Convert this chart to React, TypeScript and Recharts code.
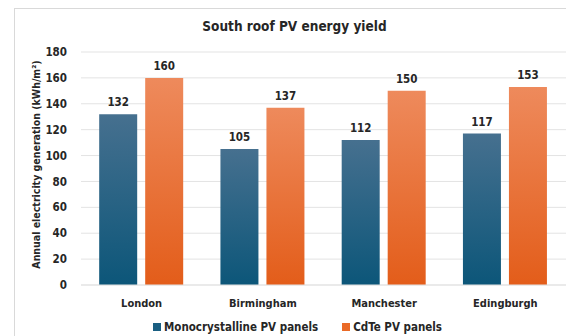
import React from "react";
import { Bar, BarChart, CartesianGrid, LabelList, Legend, XAxis, YAxis } from "recharts";

const cities = ["London", "Birmingham", "Manchester", "Edingburgh"];
const monoYield = [132, 105, 112, 117];
const cdteYield = [160, 137, 150, 153];
const yTicks = [0, 20, 40, 60, 80, 100, 120, 140, 160, 180];

const FONT = "'Liberation Sans Narrow', 'DejaVu Sans Condensed', 'Liberation Sans', sans-serif";
const TEXT = "#262626";

const data = cities.map((city, i) => ({
  city,
  mono: monoYield[i],
  cdte: cdteYield[i],
}));

function LegendBox() {
  const items = [
    { label: "Monocrystalline PV panels", color: "#1a5f82" },
    { label: "CdTe PV panels", color: "#ea6a27" },
  ];
  return (
    <div style={{ display: "flex", justifyContent: "center", gap: 24, paddingLeft: 8, paddingTop: 4, fontFamily: FONT, fontWeight: 700, fontSize: 11.5, color: TEXT }}>
      {items.map((it) => (
        <div key={it.label} style={{ display: "flex", alignItems: "center", gap: 3 }}>
          <span style={{ width: 8, height: 8, background: it.color, display: "inline-block" }} />
          <span>{it.label}</span>
        </div>
      ))}
    </div>
  );
}

export default function App() {
  return (
    <div style={{ position: "relative", width: 566, height: 328 }}>
      <div
        style={{
          position: "absolute",
          left: 6,
          top: 0,
          width: 555,
          height: 340,
          border: "1px solid #d9d9d9",
          boxSizing: "border-box",
        }}
      />
      <div
        style={{
          position: "absolute",
          left: 0,
          width: 573,
          top: 10,
          textAlign: "center",
          fontFamily: FONT,
          fontWeight: 700,
          fontSize: 13.5,
          color: TEXT,
        }}
      >
        South roof PV energy yield
      </div>
      <BarChart
        width={566}
        height={328}
        data={data}
        margin={{ top: 44, right: 8, bottom: 0, left: 13 }}
        barCategoryGap="15%"
        barGap={8}
      >
        <defs>
          <linearGradient id="gBlue" x1="0" y1="0" x2="0" y2="1">
            <stop offset="0%" stopColor="#46708f" />
            <stop offset="100%" stopColor="#0c5679" />
          </linearGradient>
          <linearGradient id="gOrange" x1="0" y1="0" x2="0" y2="1">
            <stop offset="0%" stopColor="#ee8a5c" />
            <stop offset="100%" stopColor="#e35d1a" />
          </linearGradient>
        </defs>
        <CartesianGrid vertical={false} stroke="#e3e3e3" />
        <XAxis
          dataKey="city"
          axisLine={{ stroke: "#e3e3e3" }}
          tickLine={false}
          tickSize={0}
          tickMargin={14}
          height={31}
          tick={{ fontFamily: FONT, fontWeight: 700, fontSize: 11, fill: TEXT }}
        />
        <YAxis
          domain={[0, 180]}
          ticks={yTicks}
          width={60}
          axisLine={false}
          tickLine={false}
          tickSize={0}
          tickMargin={14}
          tick={{ fontFamily: FONT, fontWeight: 700, fontSize: 11.5, fill: TEXT }}
          label={{
            content: (props: any) => {
              const vb = props.viewBox || { x: 13, y: 44, width: 60, height: 233 };
              const x = vb.x + 15;
              const y = vb.y + vb.height / 2 - 4;
              return (
                <text
                  x={x}
                  y={y}
                  transform={`rotate(-90 ${x} ${y})`}
                  textAnchor="middle"
                  dominantBaseline="central"
                  fontFamily={FONT}
                  fontWeight={700}
                  fontSize={10.5}
                  fill={TEXT}
                >
                  Annual electricity generation (kWh/m²)
                </text>
              );
            },
          }}
        />
        <Legend verticalAlign="bottom" height={20} content={() => <LegendBox />} />
        <Bar dataKey="mono" name="Monocrystalline PV panels" fill="url(#gBlue)" isAnimationActive={false}>
          <LabelList dataKey="mono" position="top" offset={8} style={{ fontFamily: FONT, fontWeight: 700, fontSize: 11.5, fill: TEXT }} />
        </Bar>
        <Bar dataKey="cdte" name="CdTe PV panels" fill="url(#gOrange)" isAnimationActive={false}>
          <LabelList dataKey="cdte" position="top" offset={8} style={{ fontFamily: FONT, fontWeight: 700, fontSize: 11.5, fill: TEXT }} />
        </Bar>
      </BarChart>
    </div>
  );
}
